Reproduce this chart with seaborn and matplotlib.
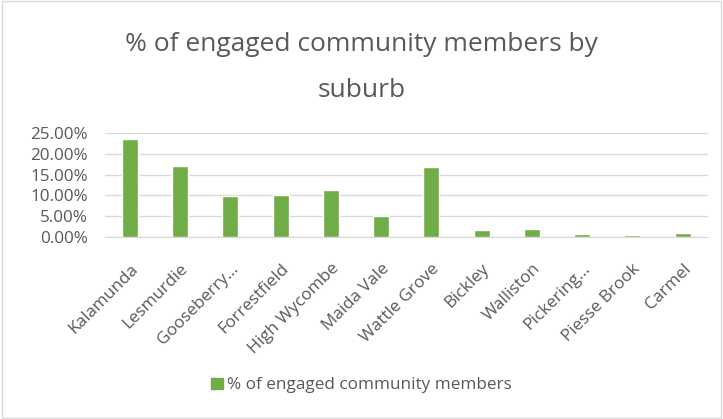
import pandas as pd
import matplotlib.pyplot as plt
import matplotlib.patches as mpatches
from matplotlib.ticker import PercentFormatter
import seaborn as sns

# Suburbs and share of engaged community members
suburbs = ["Kalamunda", "Lesmurdie", "Gooseberry…", "Forrestfield", "High Wycombe",
           "Maida Vale", "Wattle Grove", "Bickley", "Walliston", "Pickering…",
           "Piesse Brook", "Carmel"]
engaged_pct = [0.2356, 0.170, 0.0995, 0.101, 0.112, 0.051, 0.1675, 0.016,
               0.0185, 0.0065, 0.0045, 0.0096]

series_name = "% of engaged community members"
bar_color = "#70AD47"
text_color = "#595959"

df = pd.DataFrame({"Suburb": suburbs, "Share": engaged_pct})

sns.set_style("white")
plt.rcParams["font.family"] = ["Open Sans", "DejaVu Sans"]

fig = plt.figure(figsize=(7.23, 4.19), dpi=100)
ax = fig.add_axes([0.145, 0.434, 0.834, 0.249])

sns.barplot(data=df, x="Suburb", y="Share", color=bar_color, width=0.32,
            saturation=1, ax=ax, zorder=3)

ax.set_ylim(0, 0.25)
ax.set_yticks([0, 0.05, 0.10, 0.15, 0.20, 0.25])
ax.yaxis.set_major_formatter(PercentFormatter(1.0, decimals=2))
ax.grid(axis="y", color="#D9D9D9", linewidth=1, zorder=0)
ax.set_axisbelow(True)
for s in ["top", "right", "left"]:
    ax.spines[s].set_visible(False)
ax.spines["bottom"].set_color("#D9D9D9")
ax.spines["bottom"].set_zorder(0.5)
ax.set_xlabel("")
ax.set_ylabel("")
ax.tick_params(axis="both", length=0, colors=text_color, labelsize=12.3)
ax.tick_params(axis="y", pad=12)
ax.tick_params(axis="x", pad=17)
plt.setp(ax.get_xticklabels(), rotation=45, ha="right", rotation_mode="anchor")
ax.set_xlim(-0.5, len(suburbs) - 0.5)

fig.text(0.5, 0.893, "% of engaged community members by", ha="center", va="center",
         fontsize=19, color=text_color)
fig.text(0.5, 0.785, "suburb", ha="center", va="center", fontsize=19, color=text_color)

handle = mpatches.Patch(color=bar_color, label=series_name)
fig.legend(handles=[handle], loc="center", bbox_to_anchor=(0.5, 0.08), frameon=False,
           fontsize=12.3, labelcolor=text_color, handlelength=0.65, handleheight=0.65,
           handletextpad=0.25)

# light border round the chart area
fig.patches.append(mpatches.Rectangle((0.003, 0.003), 0.994, 0.994, transform=fig.transFigure,
                                      fill=False, edgecolor="#D9D9D9", linewidth=1))

fig.savefig("out.png", dpi=100)
